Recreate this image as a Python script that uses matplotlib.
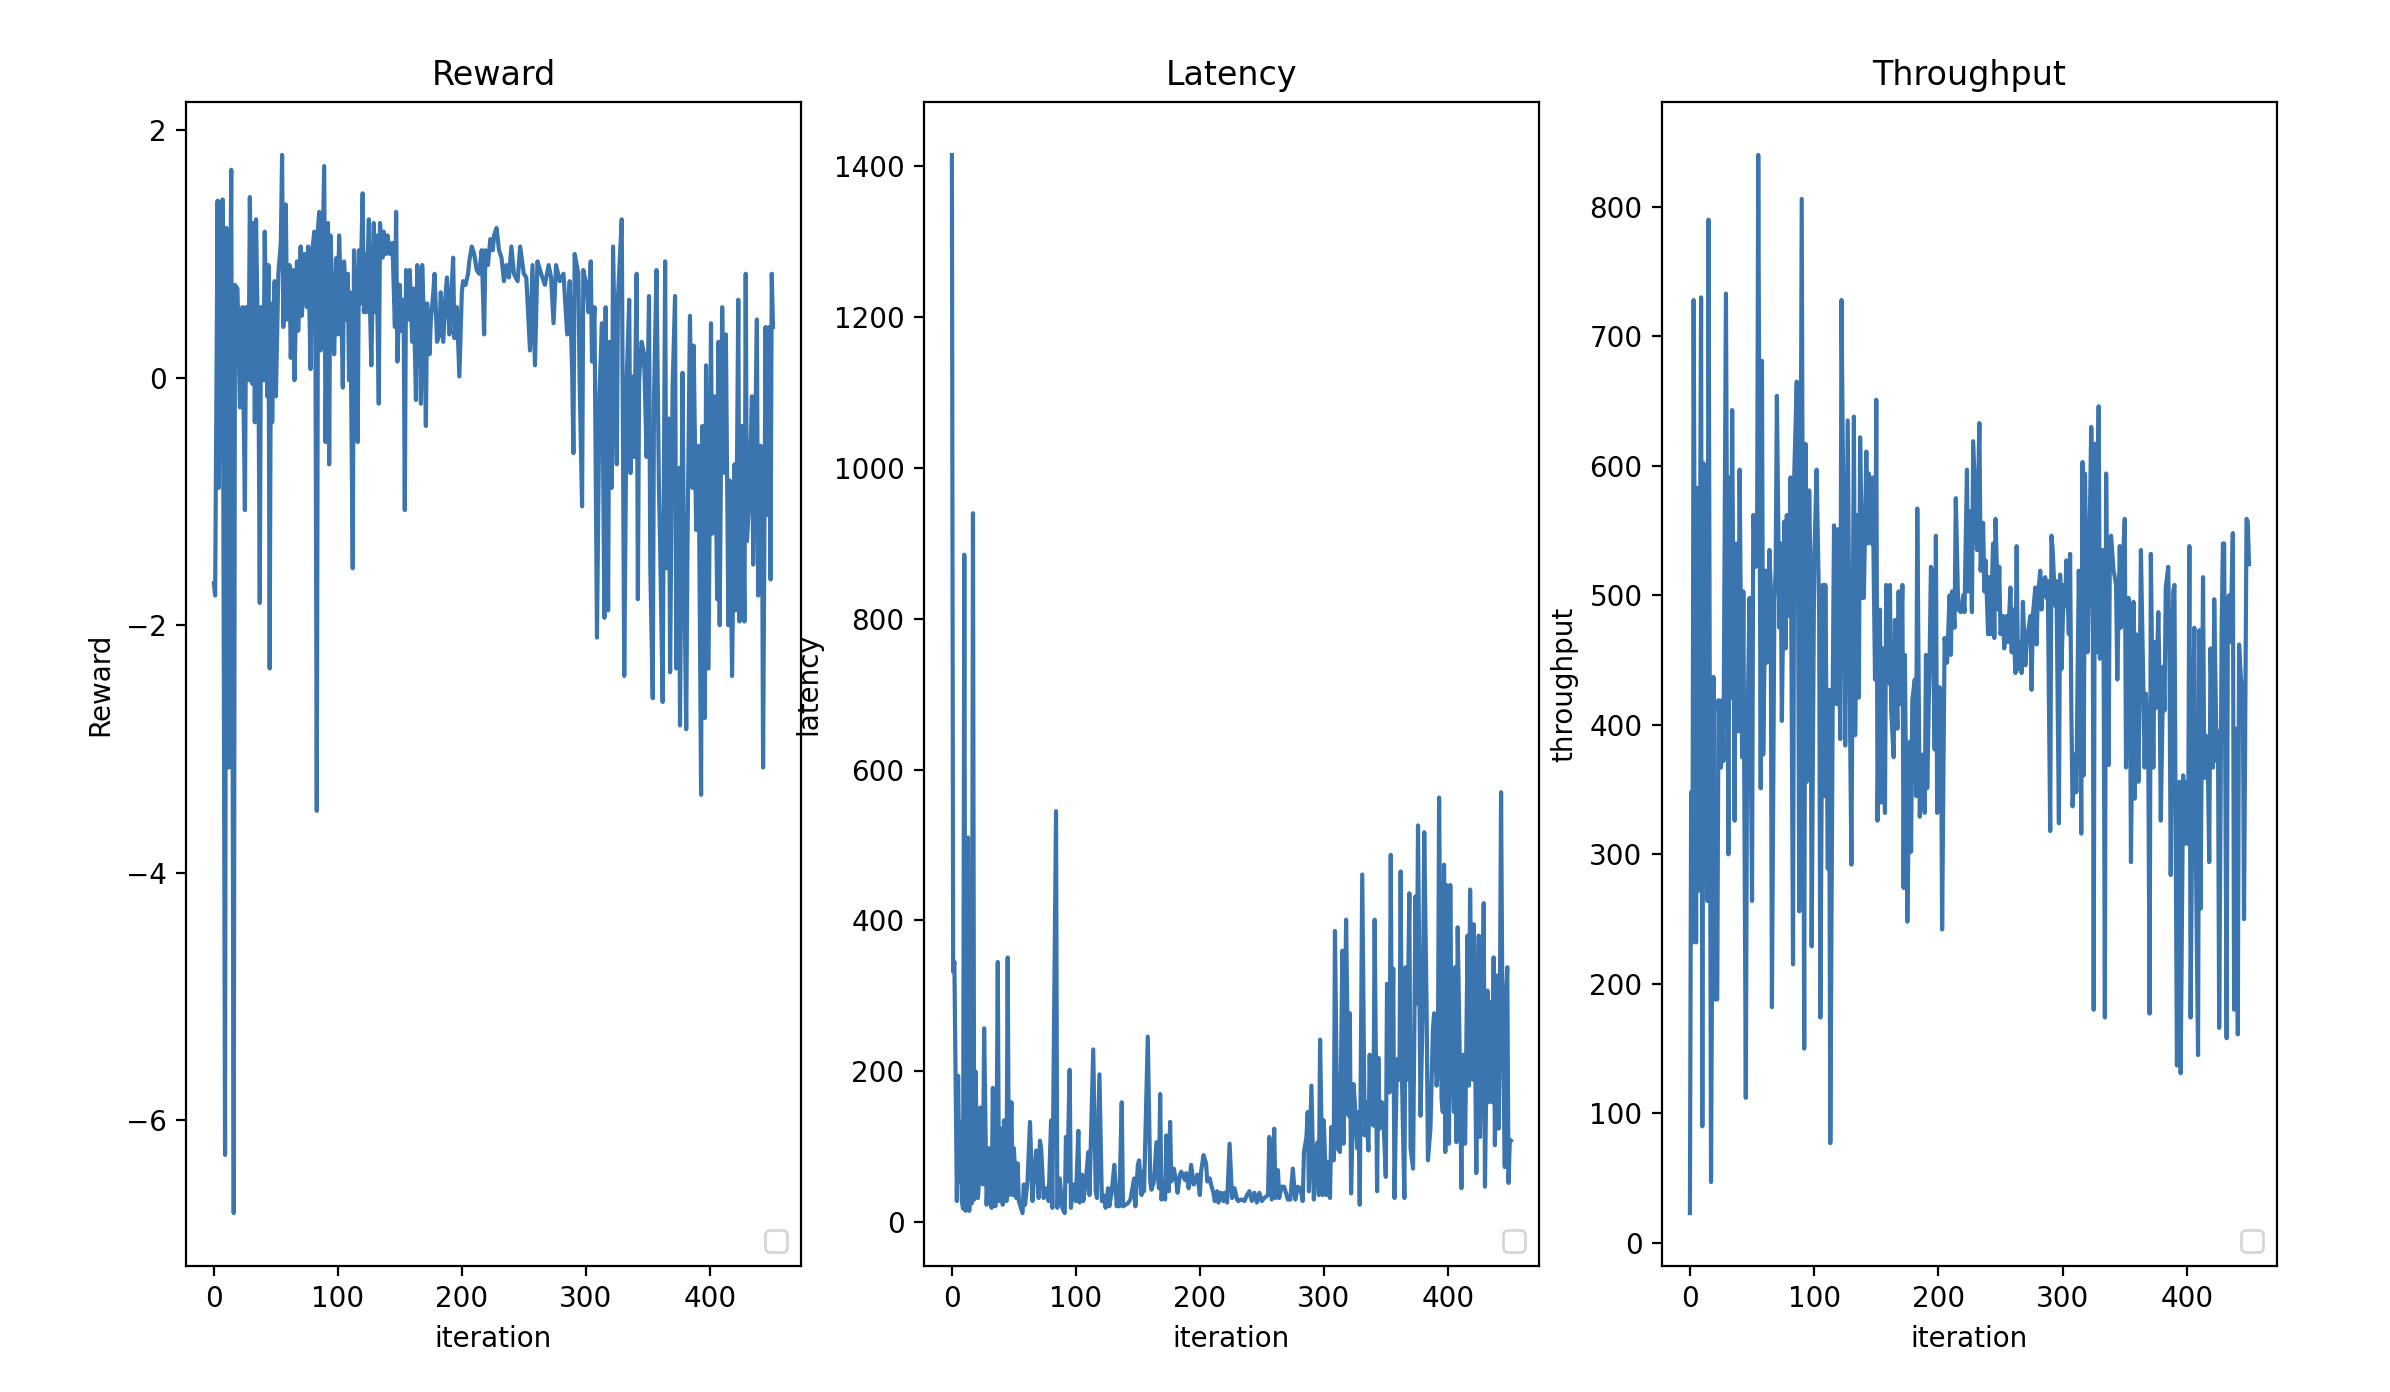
import matplotlib
matplotlib.use("Agg")
import matplotlib.pyplot as plt

# (iteration, value) pairs
reward_points = [
    (0, -1.66), (1, -1.76), (3, 1.43), (4, -0.89), (5, 0.91), (6, -0.33), (7, 1.44), (9, -6.28),
    (10, 1.21), (12, -3.15), (13, 0.47), (14, 1.68), (16, -6.75), (17, 0.75), (19, 0.72), (21, -0.24),
    (23, 0.57), (25, -1.07), (26, 0.57), (28, -0.02), (29, 1.46), (31, -0.05), (32, 1.25), (33, -0.36),
    (34, 1.28), (36, -0.02), (37, -1.82), (38, 0.57), (40, -0.02), (41, 1.18), (43, -0.15), (44, 0.91),
    (45, -2.35), (46, 0.60), (47, -0.36), (49, 0.78), (50, -0.15), (52, 0.84), (54, 1.09), (55, 1.80),
    (56, 0.41), (58, 1.40), (59, 0.47), (61, 0.91), (62, 0.16), (64, 0.87), (65, -0.02), (67, 0.94),
    (68, 0.38), (70, 1.06), (71, 0.50), (73, 1.00), (75, 0.57), (76, 1.06), (78, 0.07), (79, 1.00),
    (81, 1.18), (82, 0.07), (83, -3.50), (84, 1.21), (85, 1.34), (86, 0.22), (88, 1.21), (89, 1.71),
    (90, -0.52), (92, 1.25), (93, -0.70), (94, 1.15), (96, 0.60), (97, 0.19), (99, 0.97), (100, 0.35),
    (101, 1.15), (103, 0.47), (104, -0.08), (105, 0.94), (107, 0.47), (108, 0.84), (109, -0.02), (110, 0.69),
    (112, -1.54), (113, 1.03), (115, 0.47), (116, -0.52), (117, 1.03), (118, 0.60), (120, 1.49), (121, 0.53),
    (122, 1.00), (123, 0.53), (125, 1.28), (126, 0.53), (127, 0.10), (129, 1.25), (130, 0.53), (131, 1.15),
    (133, -0.21), (134, 1.25), (136, 0.97), (137, 1.18), (139, 1.00), (140, 1.15), (142, 1.00), (144, 1.09),
    (146, 0.41), (147, 1.34), (148, 0.13), (150, 0.75), (151, 0.38), (153, 0.63), (154, -1.07), (155, 0.87),
    (157, 0.47), (158, 0.87), (160, 0.29), (161, 0.72), (163, -0.18), (164, 0.91), (166, 0.72), (167, -0.21),
    (168, 0.91), (170, 0.29), (171, -0.39), (172, 0.60), (174, 0.19), (175, 0.47), (177, 0.69), (178, 0.84),
    (180, 0.29), (182, 0.35), (183, 0.69), (185, 0.29), (187, 0.69), (188, 0.81), (190, 0.35), (191, 0.57),
    (193, 0.97), (194, 0.32), (196, 0.57), (198, 0.01), (200, 0.69), (201, 0.78), (203, 0.75), (205, 0.84),
    (206, 0.94), (208, 1.06), (210, 1.00), (212, 0.87), (214, 0.84), (216, 1.03), (218, 0.35), (219, 1.03),
    (221, 0.91), (223, 1.12), (225, 1.03), (226, 1.15), (228, 1.21), (230, 1.03), (232, 0.97), (234, 0.78),
    (236, 0.91), (238, 0.81), (240, 1.06), (242, 0.84), (245, 0.78), (247, 1.06), (250, 0.84), (252, 0.81),
    (255, 0.22), (257, 0.91), (259, 0.10), (261, 0.94), (264, 0.84), (267, 0.75), (270, 0.91), (272, 0.81),
    (274, 0.44), (276, 0.91), (279, 0.78), (282, 0.84), (285, 0.35), (287, 0.78), (289, 0.04), (290, -0.61),
    (291, 1.00), (294, 0.84), (295, -0.02), (297, -1.04), (298, 0.87), (301, 0.72), (302, 0.53), (304, 0.94),
    (305, 0.13), (307, 0.57), (309, -2.10), (311, -0.15), (313, 0.44), (315, -1.94), (316, 0.57), (318, -1.88),
    (319, 0.29), (321, -0.89), (322, 1.06), (325, -0.70), (326, 0.66), (329, 1.28), (331, -2.41), (333, -0.02),
    (335, 0.63), (336, -0.77), (338, 0.01), (339, -0.64), (341, 0.84), (342, -1.79), (343, -0.02), (345, 0.29),
    (347, 0.19), (349, -0.64), (351, 0.66), (352, -1.51), (354, -2.59), (355, -0.18), (357, 0.87), (359, -0.89),
    (360, -1.38), (362, -2.62), (364, 0.94), (365, -1.54), (367, -0.33), (368, -2.38), (370, -0.08), (372, 0.66),
    (373, -2.35), (375, -0.73), (376, -2.81), (378, 0.04), (379, -1.26), (381, -2.84), (382, -1.38), (384, 0.50),
    (386, -0.89), (387, 0.26), (389, -1.23), (391, -0.55), (393, -3.37), (394, -0.39), (396, -2.75), (397, 0.10),
    (399, -2.35), (401, 0.44), (402, -1.26), (404, -0.15), (406, -1.79), (407, 0.29), (408, -2.00), (410, 0.57),
    (412, -0.77), (413, 0.35), (415, -2.00), (416, -0.83), (418, -2.41), (420, -0.70), (421, -1.88), (423, 0.63),
    (424, -1.97), (426, -0.39), (428, -1.97), (429, 0.84), (430, -1.32), (432, -0.95), (434, -0.15), (435, -1.51),
    (437, -0.24), (438, 0.47), (439, -1.76), (441, -0.55), (442, -0.58), (443, -3.15), (445, 0.41), (446, -1.11),
    (448, 0.41), (449, -1.63), (450, 0.84), (451, 0.41),
]

latency_points = [
    (0, 1415), (1, 332), (2, 345), (4, 28), (5, 194), (6, 54), (7, 133), (8, 28), (9, 18), (10, 885),
    (11, 15), (12, 300), (13, 510), (14, 15), (15, 420), (16, 25), (17, 940), (18, 30), (19, 200), (21, 32),
    (22, 58), (23, 152), (25, 50), (26, 257), (28, 23), (30, 98), (32, 19), (33, 178), (35, 21), (36, 98),
    (37, 345), (38, 28), (40, 124), (41, 23), (42, 135), (44, 28), (45, 351), (46, 36), (48, 159), (49, 36),
    (50, 98), (52, 32), (53, 78), (54, 28), (57, 12), (58, 50), (59, 23), (61, 54), (63, 133), (65, 28),
    (66, 54), (68, 95), (70, 32), (71, 108), (72, 98), (74, 32), (76, 45), (78, 28), (80, 135), (81, 19),
    (84, 545), (85, 19), (87, 58), (89, 19), (91, 12), (92, 113), (93, 54), (95, 202), (96, 19), (98, 50),
    (100, 28), (102, 121), (103, 26), (105, 63), (106, 28), (108, 54), (110, 93), (111, 36), (114, 229), (116, 41),
    (117, 32), (119, 196), (121, 28), (122, 36), (124, 19), (126, 45), (127, 21), (129, 41), (131, 76), (133, 21),
    (134, 45), (135, 21), (137, 159), (138, 21), (140, 23), (142, 25), (144, 30), (147, 58), (148, 21), (150, 76),
    (151, 82), (153, 36), (154, 67), (155, 41), (158, 246), (160, 54), (161, 43), (163, 54), (165, 106), (167, 45),
    (168, 170), (169, 30), (171, 54), (172, 30), (173, 115), (175, 41), (176, 133), (177, 54), (179, 71), (181, 54),
    (182, 39), (184, 63), (185, 67), (188, 56), (189, 65), (191, 45), (193, 76), (195, 50), (196, 54), (198, 63),
    (200, 36), (201, 67), (203, 89), (205, 78), (206, 54), (208, 58), (209, 50), (211, 39), (212, 28), (214, 41),
    (215, 26), (217, 39), (219, 28), (220, 39), (222, 26), (224, 104), (226, 32), (228, 45), (230, 30), (231, 28),
    (233, 30), (234, 30), (236, 28), (238, 36), (240, 41), (242, 28), (244, 39), (246, 26), (248, 39), (250, 28),
    (252, 32), (255, 36), (256, 113), (258, 30), (260, 124), (261, 32), (263, 69), (264, 32), (266, 47), (268, 47),
    (271, 30), (273, 30), (275, 71), (277, 30), (279, 47), (281, 45), (283, 28), (284, 93), (286, 113), (287, 146),
    (288, 41), (290, 181), (292, 30), (293, 89), (295, 106), (296, 36), (297, 242), (299, 36), (300, 135), (302, 36),
    (303, 80), (305, 32), (306, 126), (308, 82), (309, 386), (311, 98), (313, 93), (315, 360), (316, 104), (317, 272),
    (318, 401), (320, 141), (321, 277), (322, 38), (324, 183), (325, 159), (327, 98), (328, 146), (329, 23), (331, 461),
    (333, 115), (334, 159), (336, 95), (337, 222), (338, 146), (340, 128), (341, 401), (343, 41), (344, 218), (345, 124),
    (347, 159), (348, 141), (350, 60), (351, 316), (353, 172), (354, 487), (355, 185), (356, 336), (357, 32), (359, 216),
    (361, 189), (362, 465), (363, 194), (365, 32), (366, 338), (367, 189), (369, 436), (370, 98), (372, 71), (374, 432),
    (375, 290), (376, 526), (378, 141), (380, 299), (381, 517), (383, 272), (384, 82), (386, 124), (388, 255), (389, 277),
    (391, 181), (392, 203), (393, 563), (395, 163), (396, 146), (397, 474), (398, 93), (399, 447), (401, 104), (402, 447),
    (403, 251), (405, 146), (406, 338), (407, 106), (408, 391), (410, 185), (411, 45), (412, 222), (414, 104), (416, 380),
    (417, 181), (418, 441), (420, 189), (421, 395), (422, 238), (423, 65), (425, 380), (426, 113), (428, 264), (429, 423),
    (430, 47), (432, 307), (433, 159), (434, 292), (436, 159), (437, 351), (438, 102), (440, 327), (441, 124), (442, 281),
    (443, 570), (444, 299), (446, 73), (447, 299), (448, 338), (449, 52), (450, 106), (451, 108),
]

throughput_points = [
    (0, 23), (1, 348), (2, 232), (3, 728), (5, 232), (6, 583), (7, 272), (9, 730), (10, 90), (11, 602),
    (12, 372), (14, 264), (15, 790), (17, 47), (19, 437), (20, 188), (22, 188), (23, 419), (25, 367), (26, 419),
    (27, 372), (29, 733), (31, 300), (32, 591), (33, 421), (34, 643), (36, 326), (37, 540), (39, 395), (40, 597),
    (42, 375), (43, 503), (45, 112), (46, 377), (48, 498), (50, 264), (51, 562), (53, 522), (54, 524), (55, 840),
    (57, 351), (58, 681), (59, 377), (61, 519), (62, 448), (64, 535), (65, 508), (66, 182), (68, 495), (69, 519),
    (70, 654), (72, 475), (73, 540), (74, 403), (76, 557), (77, 459), (78, 562), (80, 484), (81, 591), (83, 215),
    (84, 594), (86, 665), (87, 530), (88, 256), (90, 806), (92, 150), (93, 617), (94, 356), (96, 581), (97, 519),
    (98, 229), (100, 524), (102, 597), (104, 487), (105, 174), (107, 508), (108, 345), (109, 508), (111, 289), (112, 427),
    (113, 77), (115, 432), (116, 554), (118, 416), (119, 551), (121, 389), (122, 728), (124, 514), (125, 384), (127, 635),
    (129, 389), (130, 292), (132, 638), (133, 392), (135, 562), (136, 421), (137, 622), (139, 498), (140, 498), (142, 611),
    (143, 540), (144, 594), (146, 540), (147, 591), (149, 435), (150, 651), (151, 326), (153, 489), (154, 340), (155, 459),
    (157, 332), (158, 508), (160, 432), (161, 508), (162, 411), (164, 375), (165, 481), (167, 397), (168, 503), (169, 416),
    (171, 508), (172, 274), (173, 454), (175, 248), (177, 387), (178, 302), (179, 419), (181, 435), (182, 345), (183, 567),
    (185, 329), (187, 377), (189, 332), (190, 454), (191, 351), (193, 454), (194, 522), (195, 519), (197, 381), (198, 546),
    (199, 332), (201, 429), (202, 424), (203, 242), (205, 467), (207, 448), (209, 500), (210, 454), (211, 503), (213, 475),
    (214, 575), (216, 489), (218, 487), (220, 500), (221, 487), (223, 597), (224, 503), (225, 565), (227, 487), (228, 619),
    (230, 562), (231, 535), (233, 633), (234, 519), (236, 556), (237, 503), (238, 527), (240, 470), (241, 514), (242, 470),
    (244, 540), (245, 467), (246, 559), (248, 489), (249, 522), (250, 470), (252, 484), (253, 459), (255, 484), (256, 464),
    (258, 506), (259, 456), (260, 489), (262, 440), (263, 538), (264, 443), (266, 464), (267, 440), (268, 495), (270, 446),
    (271, 464), (272, 470), (274, 484), (275, 427), (276, 484), (278, 506), (279, 462), (280, 498), (282, 519), (283, 489),
    (284, 511), (286, 514), (287, 498), (288, 511), (290, 318), (291, 546), (292, 535), (294, 492), (295, 511), (297, 324),
    (298, 516), (299, 443), (301, 508), (302, 492), (303, 527), (305, 470), (306, 532), (307, 411), (308, 337), (310, 377),
    (311, 348), (313, 519), (314, 456), (315, 316), (316, 603), (317, 361), (318, 594), (320, 456), (321, 498), (323, 630),
    (324, 594), (325, 180), (326, 617), (327, 456), (329, 646), (330, 451), (332, 535), (333, 448), (334, 174), (335, 594),
    (337, 369), (338, 535), (339, 546), (341, 519), (342, 514), (343, 508), (344, 435), (346, 538), (347, 475), (348, 514),
    (350, 559), (351, 367), (353, 498), (354, 475), (355, 294), (357, 495), (358, 343), (359, 470), (361, 356), (362, 432),
    (363, 535), (365, 427), (366, 367), (367, 424), (369, 367), (370, 177), (371, 532), (373, 367), (374, 464), (375, 413),
    (377, 487), (378, 432), (379, 326), (381, 445), (382, 411), (383, 506), (385, 522), (386, 451), (387, 284), (389, 503),
    (390, 508), (391, 310), (392, 137), (394, 356), (395, 131), (397, 361), (398, 308), (399, 356), (401, 308), (402, 538),
    (403, 174), (405, 416), (406, 475), (407, 321), (409, 145), (410, 473), (411, 258), (413, 514), (414, 359), (415, 392),
    (417, 361), (418, 294), (419, 459), (421, 367), (422, 497), (424, 372), (425, 395), (426, 166), (428, 475), (429, 540),
    (430, 540), (432, 158), (433, 497), (434, 500), (435, 464), (437, 548), (438, 180), (440, 397), (441, 161), (442, 462),
    (444, 427), (445, 432), (446, 250), (448, 559), (449, 557), (450, 524),
]

titles = ["Reward", "Latency", "Throughput"]
ylabels = ["Reward", "latency", "throughput"]
xlabel = "iteration"
line_color = "#3b75af"

series = [reward_points, latency_points, throughput_points]

fig, axes = plt.subplots(1, 3, figsize=(11.95, 6.96), dpi=200)
fig.subplots_adjust(left=0.0778, right=0.9527, bottom=0.0905, top=0.9267, wspace=0.2)

for ax, pts, title, ylab in zip(axes, series, titles, ylabels):
    xs = [p[0] for p in pts]
    ys = [p[1] for p in pts]
    ax.plot(xs, ys, color=line_color, linewidth=1.5)
    ax.set_title(title)
    ax.set_xlabel(xlabel)
    ax.set_ylabel(ylab)
    ax.set_xticks([0, 100, 200, 300, 400])
    ax.legend(loc="lower right")

fig.savefig("out.png", dpi=200)
